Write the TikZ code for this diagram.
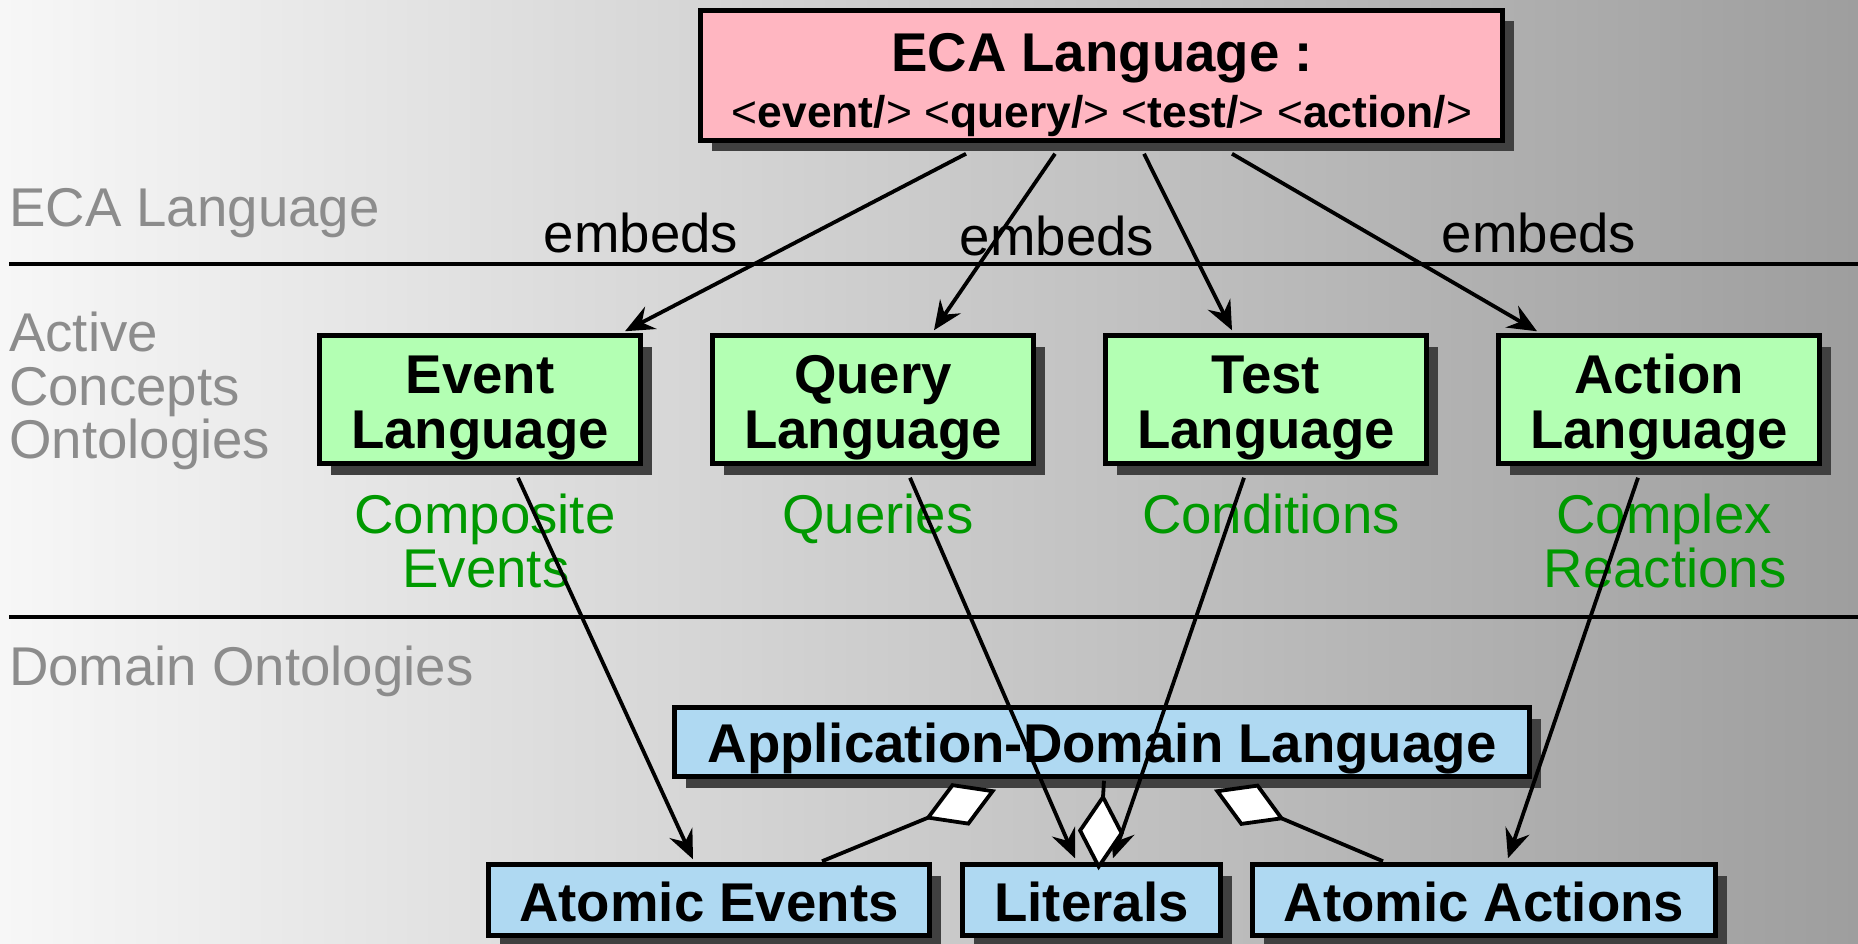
\documentclass[tikz,border=0pt]{standalone}
\usepackage{fontspec}
\setmainfont{Liberation Sans}
\usetikzlibrary{arrows.meta,shadows,calc}
\definecolor{bgleft}{HTML}{F7F7F7}
\definecolor{bgright}{HTML}{9E9E9E}
\definecolor{pinkfill}{HTML}{FFB6C1}
\definecolor{greenfill}{HTML}{B3FFB3}
\definecolor{bluefill}{HTML}{AFD9F2}
\definecolor{shadowcol}{HTML}{404040}
\definecolor{labelgray}{HTML}{8C8C8C}
\definecolor{conceptgreen}{HTML}{009900}
\begin{document}
\begin{tikzpicture}[x=1pt,y=-1pt,
  boxbase/.style={draw=black, line width=4.5pt, rectangle, inner sep=0pt,
    drop shadow={shadow xshift=11pt,shadow yshift=-11pt,fill=shadowcol,opacity=1}},
  ecabox/.style={boxbase, fill=pinkfill, minimum width=802pt, minimum height=130pt},
  langbox/.style={boxbase, fill=greenfill, minimum width=321pt, minimum height=128pt},
  dombox/.style={boxbase, fill=bluefill, minimum height=69pt},
  atombox/.style={boxbase, fill=bluefill, minimum height=71pt},
  boldtext/.style={font=\bfseries\fontsize{54.6pt}{55pt}\selectfont, inner sep=0pt, anchor=base},
  tagtext/.style={font=\bfseries\fontsize{44.4pt}{45pt}\selectfont, inner sep=0pt, anchor=base},
  plaintext/.style={font=\fontsize{54.6pt}{55pt}\selectfont, inner sep=0pt, anchor=base},
  layertext/.style={plaintext, text=labelgray, anchor=base west},
  concepttext/.style={plaintext, text=conceptgreen},
  rule/.style={line width=4pt, black},
  arr/.style={line width=3.8pt, -{Stealth[length=29pt,width=25pt,inset=10pt]}},
  agg/.style={line width=3.8pt, -{Diamond[length=77pt,width=46pt,fill=white]}}
]
\useasboundingbox (0,0) rectangle (1858,944);
\shade[left color=bgleft, right color=bgright] (0,0) rectangle (1858,944);

% layer rules
\coordinate (r1a) at (9,264);
\coordinate (r1b) at (1858,264);
\coordinate (r2a) at (9,617);
\coordinate (r2b) at (1858,617);
\draw[rule] (r1a) -- (r1b);
\draw[rule] (r2a) -- (r2b);

% layer labels
\node[layertext] (lay1) at (9,226) {ECA Language};
\node[layertext] (lay2a) at (9,351) {Active};
\node[layertext] (lay2b) at (9,405) {Concepts};
\node[layertext] (lay2c) at (9,458) {Ontologies};
\node[layertext] (lay3) at (9,685) {Domain Ontologies};

% boxes
\node[ecabox] (eca) at (1101.5,75.5) {};
\node[langbox] (ev) at (480,399.5) {};
\node[langbox] (qu) at (873,399.5) {};
\node[langbox] (te) at (1266,399.5) {};
\node[langbox] (ac) at (1659,399.5) {};
\node[dombox, minimum width=855pt] (ad) at (1102,742) {};
\node[atombox, minimum width=441pt] (ae) at (709,900) {};
\node[atombox, minimum width=258pt] (li) at (1091.5,900) {};
\node[atombox, minimum width=463pt] (aa) at (1484,900) {};

% box texts
\node[boldtext] (ecat1) at (1102,72) {ECA Language :};
\node[tagtext] (ecat2) at (1102,128) {{\mdseries<}event/{\mdseries>} {\mdseries<}query/{\mdseries>} {\mdseries<}test/{\mdseries>} {\mdseries<}action/{\mdseries>}};
\node[boldtext] (evt1) at (480,393) {Event};
\node[boldtext] (evt2) at (480,448) {Language};
\node[boldtext] (qut1) at (873,393) {Query};
\node[boldtext] (qut2) at (873,448) {Language};
\node[boldtext] (tet1) at (1266,393) {Test};
\node[boldtext] (tet2) at (1266,448) {Language};
\node[boldtext] (act1) at (1659,393) {Action};
\node[boldtext] (act2) at (1659,448) {Language};
\node[boldtext] (adt) at (1102,762) {Application-Domain Language};
\node[boldtext] (aet) at (709,921) {Atomic Events};
\node[boldtext] (lit) at (1091.5,921) {Literals};
\node[boldtext] (aat) at (1484,921) {Atomic Actions};

% concept labels
\node[concepttext] (c1a) at (485,533) {Composite};
\node[concepttext] (c1b) at (486,587) {Events};
\node[concepttext] (c2) at (878,533) {Queries};
\node[concepttext] (c3) at (1271,533) {Conditions};
\node[concepttext] (c4a) at (1664,533) {Complex};
\node[concepttext] (c4b) at (1665,587) {Reactions};

% embeds labels
\node[plaintext] (em1) at (641,252) {embeds};
\node[plaintext] (em2) at (1057,255) {embeds};
\node[plaintext] (em3) at (1539,252) {embeds};

% embeds arrows
\draw[arr] ($(eca.south)+(-135.5,11)$) -- ($(ev.north)+(145,-2)$);
\draw[arr] ($(eca.south)+(-46.5,11)$) -- ($(qu.north)+(61,-3)$);
\draw[arr] ($(eca.south)+(42.5,11)$) -- ($(te.north)+(-34,-3)$);
\draw[arr] ($(eca.south)+(130.5,11)$) -- ($(ac.north)+(-122,-2)$);

% language to domain arrows
\draw[arr] ($(ev.south)+(38,12)$) -- ($(ae.north)+(-16,-3)$);
\draw[arr] ($(qu.south)+(37,12)$) -- ($(li.north)+(-16.5,-4)$);
\draw[arr] ($(te.south)+(-22,12)$) -- ($(li.north)+(21.5,-4)$);
\draw[arr] ($(ac.south)+(-21,12)$) -- ($(aa.north)+(24,-4)$);

% aggregations
\draw[agg] ($(ae.north)+(113,-1)$) -- ($(ad.south)+(-106,11)$);
\draw[agg] ($(aa.north)+(-101,-1)$) -- ($(ad.south)+(112,11)$);
\draw[agg] ($(ad.south)+(2,2)$) -- ($(li.north)+(7,8)$);
\end{tikzpicture}
\end{document}
